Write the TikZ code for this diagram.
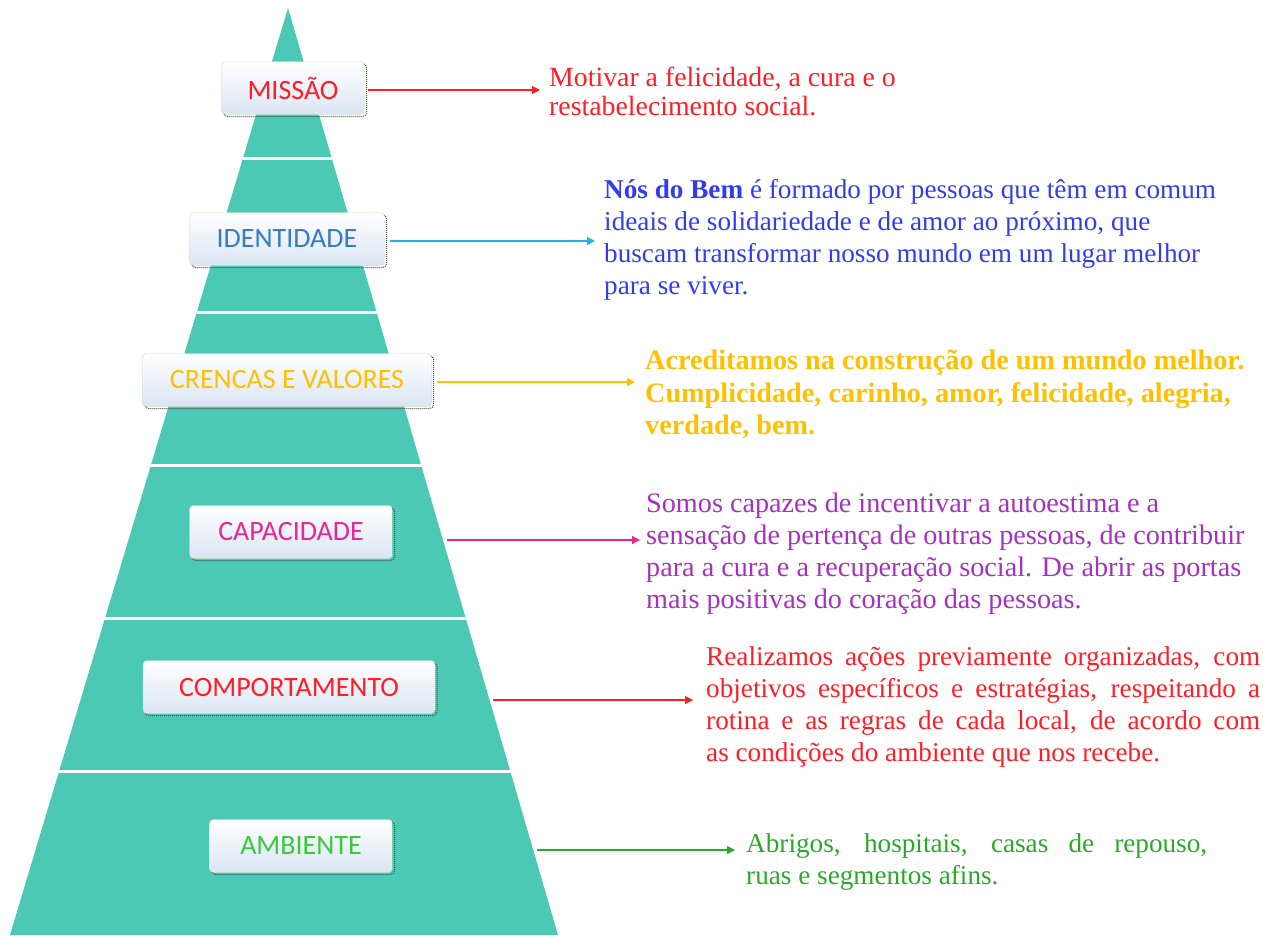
\documentclass[tikz,border=0pt]{standalone}
\usepackage{fontspec}
\setmainfont{Liberation Serif}
\newfontfamily\boxfont{Carlito}
\usetikzlibrary{arrows.meta,shadows}
\definecolor{pyr}{RGB}{76,201,180}
\definecolor{boxline}{RGB}{200,228,180}
\definecolor{boxblue}{RGB}{218,229,243}
\definecolor{redtxt}{RGB}{255,30,40}
\definecolor{bluetxt}{RGB}{50,60,235}
\definecolor{cyanln}{RGB}{30,180,230}
\definecolor{idblue}{RGB}{55,125,195}
\definecolor{goldtxt}{RGB}{255,192,0}
\definecolor{magtxt}{RGB}{230,40,150}
\definecolor{purtxt}{RGB}{165,50,190}
\definecolor{greentxt}{RGB}{40,170,40}
\definecolor{greenbox}{RGB}{60,200,60}
\tikzset{
  level/.style={rounded corners=4pt, draw=boxline, top color=white, bottom color=boxblue,
    minimum height=53pt, inner sep=0pt, font=\boxfont\fontsize{28}{28}\selectfont,
    general shadow={shadow xshift=2pt, shadow yshift=-2pt, draw=black!70, densely dotted, line width=1pt}},
  desc/.style={anchor=north west, inner sep=0pt, align=left, font=\fontsize{27.2}{32}\selectfont},
  link/.style={-{Triangle[length=8pt,width=8pt]}, line width=1.2pt}
}
\begin{document}
\begin{tikzpicture}[x=1pt, y=-1pt]
\useasboundingbox (0,0) rectangle (1263,935);
% pyramid
\coordinate (apex) at (288,8);
\coordinate (bl) at (10,935);
\coordinate (br) at (558,935);
\fill[pyr] (apex) -- (bl) -- (br) -- cycle;
\begin{scope}
  \clip (apex) -- (bl) -- (br) -- cycle;
  \foreach \y in {158,312,465,618,771}
    \draw[white, line width=3pt] (0,\y) -- (600,\y); %tiers
\end{scope}

% levels
\node[level, minimum width=143pt, text=redtxt] (mission) at (293,88) {MISSÃO};
\node[level, minimum width=195pt, text=idblue] (identity) at (287,239) {IDENTIDADE};
\node[level, minimum width=289pt, text=goldtxt] (beliefs) at (287,380) {CRENCAS E VALORES};
\node[level, minimum width=203pt, text=magtxt] (capability) at (291,532) {CAPACIDADE};
\node[level, minimum width=292pt, text=redtxt] (behavior) at (289,687) {COMPORTAMENTO};
\node[level, minimum width=183pt, text=greenbox] (environment) at (301,846) {AMBIENTE};

% descriptions
\node[desc, text=redtxt, font=\fontsize{27.8}{29}\selectfont] (missiontxt) at (549,67)
  {Motivar a felicidade, a cura e o\\restabelecimento social.};
\node[desc, text=bluetxt] (identitytxt) at (604,179)
  {\textbf{Nós do Bem} é formado por pessoas que têm em comum\\
   ideais de solidariedade e de amor ao próximo, que\\
   buscam transformar nosso mundo em um lugar melhor\\
   para se viver.};
\node[desc, text=goldtxt, font=\bfseries\fontsize{28.2}{32.5}\selectfont] (beliefstxt) at (645,350)
  {Acreditamos na construção de um mundo melhor.\\
   Cumplicidade, carinho, amor, felicidade, alegria,\\
   verdade, bem.};
\node[desc, text=purtxt, font=\fontsize{28.2}{32}\selectfont] (capabilitytxt) at (646,493)
  {Somos capazes de incentivar a autoestima e a\\
   sensação de pertença de outras pessoas, de contribuir\\
   para a cura e a recuperação social. De abrir as portas\\
   mais positivas do coração das pessoas.};
\node[desc, text=redtxt, text width=554pt, align=justify] (behaviortxt) at (706,646)
  {Realizamos ações previamente organizadas, com\linebreak
   objetivos específicos e estratégias, respeitando a\linebreak
   rotina e as regras de cada local, de acordo com\linebreak
   as condições do ambiente que nos recebe.};
\node[desc, text=greentxt, text width=461pt, align=justify] (environmenttxt) at (746,833)
  {Abrigos, hospitais, casas de repouso,\linebreak
   ruas e segmentos afins.};

% arrows
\coordinate (m1) at (368,90);  \coordinate (m2) at (540,90);
\coordinate (i1) at (390,241); \coordinate (i2) at (595,241);
\coordinate (b1) at (437,382); \coordinate (b2) at (635,382);
\coordinate (c1) at (447,540); \coordinate (c2) at (640,540);
\coordinate (h1) at (493,700); \coordinate (h2) at (693,700);
\coordinate (e1) at (537,850); \coordinate (e2) at (735,850);
\draw[link, redtxt] (m1) -- (m2);
\draw[link, cyanln] (i1) -- (i2);
\draw[link, goldtxt] (b1) -- (b2);
\draw[link, magtxt] (c1) -- (c2);
\draw[link, redtxt] (h1) -- (h2);
\draw[link, greentxt] (e1) -- (e2);
\end{tikzpicture}
\end{document}
